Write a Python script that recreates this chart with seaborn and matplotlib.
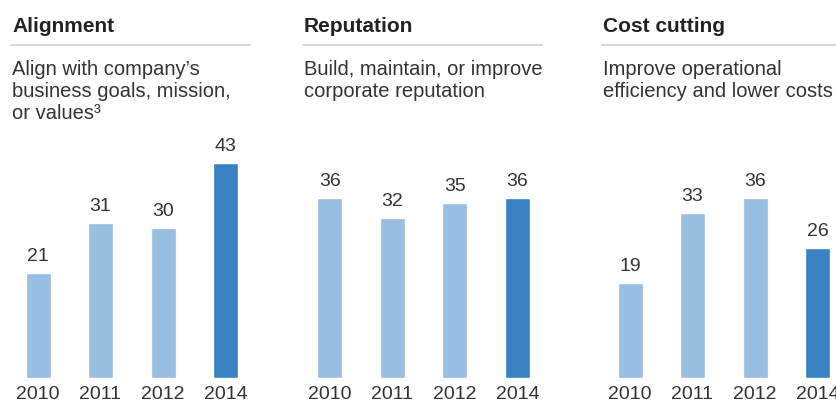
import matplotlib
matplotlib.use("Agg")
import matplotlib.pyplot as plt
from matplotlib.lines import Line2D
import seaborn as sns
import pandas as pd

years = ["2010", "2011", "2012", "2014"]
alignment = [21, 31, 30, 43]
reputation = [36, 32, 35, 36]
cost_cutting = [19, 33, 36, 26]

titles = ["Alignment", "Reputation", "Cost cutting"]
subtitles = [
    ["Align with company\u2019s", "business goals, mission,", "or values\u00b3"],
    ["Build, maintain, or improve", "corporate reputation"],
    ["Improve operational", "efficiency and lower costs"],
]
series = [alignment, reputation, cost_cutting]

sns.set_theme(style="white")
plt.rcParams["font.family"] = ["Liberation Sans", "DejaVu Sans"]

W, H = 837, 403
fig = plt.figure(figsize=(W / 100, H / 100), dpi=100)

light = "#98BEE2"
dark = "#3882C4"
txt = "#333333"

panel_text_x = [12, 304, 603]
bar_first_center = [38, 330, 630]
step = 62.5
baseline = 378
ppu = 5.0
ylim_top = 50

for i in range(3):
    df = pd.DataFrame({"year": years, "value": series[i],
                       "grp": ["old", "old", "old", "new"]})
    left = bar_first_center[i] - step / 2
    width = step * 4
    height = ppu * ylim_top
    ax = fig.add_axes([left / W, (H - baseline) / H, width / W, height / H])
    sns.barplot(data=df, x="year", y="value", hue="grp",
                palette={"old": light, "new": dark}, width=0.4,
                dodge=False, legend=False, ax=ax, saturation=1)
    ax.set_xlim(-0.5, 3.5)
    ax.set_ylim(0, ylim_top)
    for c in ax.containers:
        ax.bar_label(c, fmt="%d", padding=6, fontsize=14, color=txt)
    ax.set_xlabel("")
    ax.set_ylabel("")
    ax.set_yticks([])
    ax.tick_params(axis="x", length=0, pad=5.5, labelsize=14, labelcolor=txt)
    for s in ax.spines.values():
        s.set_visible(False)
    ax.patch.set_alpha(0)

    x0 = panel_text_x[i]
    fig.text(x0 / W, 1 - 32 / H, titles[i], fontsize=15, fontweight="bold",
             color="#222222", va="baseline", ha="left")
    fig.add_artist(Line2D([(x0 - 1) / W, (x0 + 238) / W], [1 - 44.5 / H, 1 - 44.5 / H],
                          color="#d9d9d9", lw=1.5, transform=fig.transFigure))
    for j, line in enumerate(subtitles[i]):
        fig.text(x0 / W, 1 - (75 + 22 * j) / H, line, fontsize=14.5,
                 color=txt, va="baseline", ha="left")

fig.savefig("out.png", dpi=100)
